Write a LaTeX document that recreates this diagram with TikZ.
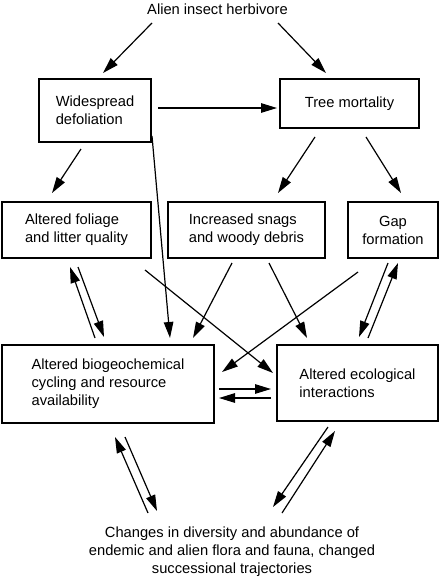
\documentclass[tikz,border=0pt]{standalone}
\usepackage{fontspec}
\setmainfont{Liberation Sans}
\usetikzlibrary{arrows.meta}
\begin{document}
\begin{tikzpicture}[x=1pt,y=-1pt,
  box/.style={draw,line width=1.3pt,inner sep=0pt,align=left,font=\fontsize{14.7}{18}\selectfont},
  lbl/.style={inner sep=0pt,align=center,font=\fontsize{14.7}{18}\selectfont},
  arr/.style={line width=1.2pt,-{Triangle[length=16pt,width=9.5pt]}}]
\useasboundingbox (0,0) rectangle (442,578);
\node[lbl] (alien) at (217.5,9.5) {Alien insect herbivore};
\node[box,minimum width=112pt,minimum height=63pt] (def) at (95,110.5) {Widespread\\defoliation};
\node[box,minimum width=139pt,minimum height=49pt] (tree) at (349.5,103.5) {Tree mortality};
\node[box,minimum width=149pt,minimum height=56pt] (fol) at (76.5,230) {Altered foliage\\and litter quality};
\node[box,minimum width=157pt,minimum height=56pt] (snag) at (246.5,230) {Increased snags\\and woody debris};
\node[box,minimum width=90pt,minimum height=56pt,align=center] (gap) at (393,230) {Gap\\formation};
\node[box,minimum width=212pt,minimum height=78pt] (bio) at (108,384) {Altered biogeochemical\\cycling and resource\\availability};
\node[box,minimum width=161pt,minimum height=76pt] (eco) at (357.5,383) {Altered ecological\\interactions};
\node[lbl] (out) at (232,552) {Changes in diversity and abundance of\\endemic and alien flora and fauna, changed\\successional trajectories};

\draw[arr] ([shift={(-65.5,13.5)}]alien.center) -- ([shift={(8,-37.5)}]def.center);
\draw[arr] ([shift={(60.5,13.5)}]alien.center) -- ([shift={(-23.5,-30.5)}]tree.center);
\draw[arr] ([shift={(63,-2.5)}]def.center) -- ([shift={(-72.5,4.5)}]tree.center);
\draw[arr] ([shift={(-14,38.5)}]def.center) -- ([shift={(-24.5,-37)}]fol.center);
\draw[arr] ([shift={(-34.5,33.5)}]tree.center) -- ([shift={(31.5,-37)}]snag.center);
\draw[arr] ([shift={(16.5,33.5)}]tree.center) -- ([shift={(8,-37)}]gap.center);
\draw[arr] ([shift={(57,25.5)}]def.center) -- ([shift={(62,-46)}]bio.center);
\draw[arr] ([shift={(-13,-46)}]bio.center) -- ([shift={(-6.5,37)}]fol.center);
\draw[arr] ([shift={(1.5,37)}]fol.center) -- ([shift={(-4,-47)}]bio.center);
\draw[arr] ([shift={(68.5,40)}]fol.center) -- ([shift={(-84.5,-10)}]eco.center);
\draw[arr] ([shift={(-14.5,33)}]snag.center) -- ([shift={(85,-46)}]bio.center);
\draw[arr] ([shift={(22.5,33)}]snag.center) -- ([shift={(-50.5,-45)}]eco.center);
\draw[arr] ([shift={(-35,42)}]gap.center) -- ([shift={(114,-12)}]bio.center);
\draw[arr] ([shift={(-5,33)}]gap.center) -- ([shift={(1.5,-46)}]eco.center);
\draw[arr] ([shift={(10.5,-45)}]eco.center) -- ([shift={(5,33)}]gap.center);
\draw[arr] ([shift={(111,5)}]bio.center) -- ([shift={(-86.5,6)}]eco.center);
\draw[arr] ([shift={(-86.5,15)}]eco.center) -- ([shift={(111,14)}]bio.center);
\draw[arr] ([shift={(-84,-39)}]out.center) -- ([shift={(7,53)}]bio.center);
\draw[arr] ([shift={(17,53)}]bio.center) -- ([shift={(-75,-41)}]out.center);
\draw[arr] ([shift={(-29.5,44)}]eco.center) -- ([shift={(41,-45)}]out.center);
\draw[arr] ([shift={(50,-39)}]out.center) -- ([shift={(-22.5,48)}]eco.center);
\end{tikzpicture}
\end{document}
